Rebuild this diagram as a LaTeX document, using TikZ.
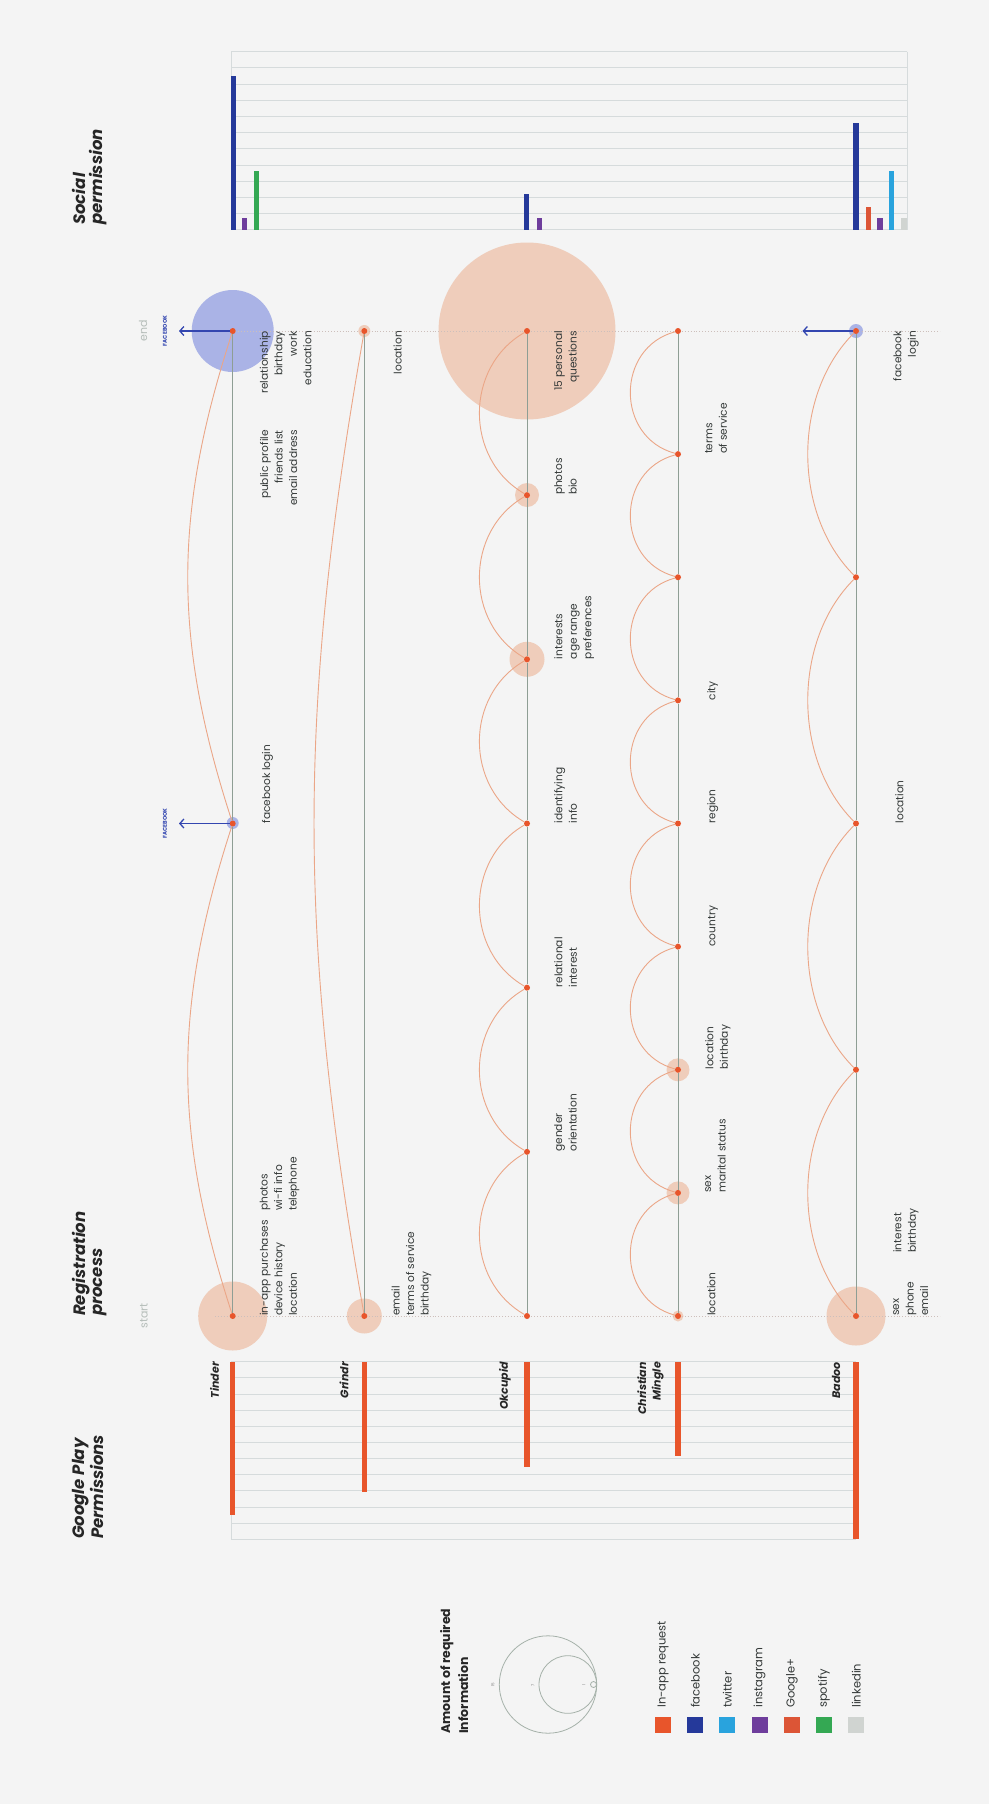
\documentclass[tikz,border=0pt]{standalone}
\usepackage{fontspec}
\setmainfont{Poppins}
\usetikzlibrary{arrows.meta}

\definecolor{bg}{HTML}{F4F4F4}
\definecolor{inapp}{HTML}{E8552B}
\definecolor{fb}{HTML}{25399A}
\definecolor{tw}{HTML}{29A3DD}
\definecolor{insta}{HTML}{6E3D9C}
\definecolor{gplus}{HTML}{DC5536}
\definecolor{spot}{HTML}{34A853}
\definecolor{lnkd}{HTML}{D0D4D1}
\definecolor{peach}{HTML}{EFCDBB}
\definecolor{lav}{HTML}{AAB3E6}
\definecolor{arcc}{HTML}{EBA687}
\definecolor{trackc}{HTML}{8E9E94}
\definecolor{gridc}{HTML}{D6DBDC}
\definecolor{ink}{HTML}{343938}
\definecolor{fbline}{HTML}{3346B0}
\definecolor{stampc}{HTML}{B5BDB9}
\definecolor{guidec}{HTML}{CDBFBB}

\tikzset{
  dot/.style={circle,fill=inapp,inner sep=0pt,minimum size=6pt},
  hop/.style={draw=arcc,line width=0.9pt},
  track/.style={draw=trackc,line width=0.8pt},
  guide/.style={draw=guidec,line width=0.9pt,dotted},
  gridline/.style={draw=gridc,line width=0.9pt},
  fbarrow/.style={draw=fbline,line width=1.3pt,-{Straight Barb[length=4pt,width=9pt]}},
  fbtag/.style={rotate=90,inner sep=0pt,text=fbline,font=\fontsize{5.5}{6}\selectfont\bfseries},
  info/.style={rotate=90,inner sep=0pt,text=ink,font=\fontsize{10.6}{14.5}\selectfont,execute at begin node=\strut},
  infostart/.style={info,align=left,anchor=north west},
  infoend/.style={info,align=right,anchor=north east},
  heading/.style={rotate=90,inner sep=0pt,anchor=north west,align=left,text=black!85,font=\fontsize{16.5}{17}\selectfont\bfseries\itshape},
  appname/.style={rotate=90,inner sep=0pt,anchor=east,align=right,text=black!85,font=\fontsize{11}{14.5}\selectfont\bfseries\itshape},
  stamp/.style={rotate=90,inner sep=0pt,text=stampc,font=\fontsize{11}{12}\selectfont},
  ring/.style={draw=trackc!80,line width=0.8pt},
  tiny/.style={rotate=90,inner sep=0pt,text=black!50,font=\fontsize{4}{4}\selectfont},
  swatch/.style={inner sep=0pt,minimum size=16pt},
  keytext/.style={rotate=90,inner sep=0pt,anchor=west,text=ink,font=\fontsize{11.5}{12}\selectfont},
  okhop/.style={bend left=60,looseness=1.1},
  cmhop/.style={bend left=75,looseness=1.3},
  badoohop/.style={bend left=45,looseness=0.92}
}

\begin{document}
\begin{tikzpicture}[x=1pt,y=-1pt]
\useasboundingbox (0,0) rectangle (989,1804);
\fill[bg] (0,0) rectangle (989,1804);

\foreach \k in {0,...,11}
  \draw[gridline] (231,{51.7+16.2*\k}) -- (907,{51.7+16.2*\k});
\draw[gridline] (231,51.7) -- (231,230) (907,51.7) -- (907,230);
\foreach \k in {0,...,11}
  \draw[gridline] (231,{1361.7+16.15*\k}) -- (856,{1361.7+16.15*\k});
\draw[gridline] (231,1361.7) -- (231,1539.4);

\foreach \c/\x/\t in {fb/233.4/76,insta/244.8/218.3,spot/256.8/171,fb/526.8/194.3,insta/539.4/218.3,fb/856/123.3,gplus/868.8/206.7,insta/880/218.3,tw/891.5/171,lnkd/904/218.3}
  \fill[\c] ({\x-2.6},230) rectangle ({\x+2.6},\t);
\foreach \x/\b in {232.7/1515,364.3/1491.7,527/1467,678/1456,856/1539.4}
  \fill[inapp] ({\x-2.6},1361.7) rectangle ({\x+2.6},\b);

\node[heading] (gptitle) at (72,1539) {Google Play\\Permissions};
\node[heading] (regtitle) at (72,1316) {Registration\\process};
\node[heading] (soctitle) at (72,225) {Social\\permission};

\node[appname] (tindername) at (214.5,1362) {Tinder};
\node[appname] (grindrname) at (344,1362) {Grindr};
\node[appname] (okname) at (505,1362) {Okcupid};
\node[appname] (cmname) at (650.5,1362) {Christian\\Mingle};
\node[appname] (badooname) at (836,1362) {Badoo};

\node[stamp] (startlbl) at (144,1316) {start};
\node[stamp] (endlbl) at (143,331) {end};

\fill[peach] (232.7,1316) circle[radius=34.5];
\fill[lav] (232.7,823) circle[radius=6];
\fill[lav] (232.7,331) circle[radius=41];
\fill[peach] (364.3,1316) circle[radius=17.5];
\fill[peach] (364.3,331) circle[radius=6];
\fill[peach] (527,659.3) circle[radius=17.5];
\fill[peach] (527,495) circle[radius=12];
\fill[peach] (527,331) circle[radius=88.5];
\fill[peach] (678,1316) circle[radius=5.5];
\fill[peach] (678,1192.9) circle[radius=11.5];
\fill[peach] (678,1069.8) circle[radius=11.5];
\fill[peach] (856,1316) circle[radius=29.5];
\fill[lav] (856,331) circle[radius=7];

\coordinate (sl) at (215,1316);
\coordinate (sr) at (940,1316);
\coordinate (el) at (215,331);
\coordinate (er) at (940,331);
\draw[guide] (sl) -- (sr);
\draw[guide] (el) -- (er);

\node[dot] (t0) at (232.7,1316) {};
\node[dot] (t1) at (232.7,823.5) {};
\node[dot] (t2) at (232.7,331) {};
\node[dot] (g0) at (364.3,1316) {};
\node[dot] (g1) at (364.3,331) {};
\foreach \i in {0,...,6}
  \node[dot] (o\i) at (527,{1316-164.1667*\i}) {};
\foreach \i in {0,...,8}
  \node[dot] (c\i) at (678,{1316-123.125*\i}) {};
\foreach \i in {0,...,4}
  \node[dot] (b\i) at (856,{1316-246.25*\i}) {};

\draw[track] (t0) -- (t1) -- (t2);
\draw[track] (g0) -- (g1);
\draw[track] (o0) -- (o1) -- (o2) -- (o3) -- (o4) -- (o5) -- (o6);
\draw[track] (c0) -- (c1) -- (c2) -- (c3) -- (c4) -- (c5) -- (c6) -- (c7) -- (c8);
\draw[track] (b0) -- (b1) -- (b2) -- (b3) -- (b4);

\draw[hop] (t0) to[bend left=18] (t1);
\draw[hop] (t1) to[bend left=18] (t2);
\draw[hop] (g0) to[bend left=10] (g1);
\foreach \a/\b in {o0/o1,o1/o2,o2/o3,o3/o4,o4/o5,o5/o6}
  \draw[hop] (\a) to[okhop] (\b);
\foreach \a/\b in {c0/c1,c1/c2,c2/c3,c3/c4,c4/c5,c5/c6,c6/c7,c7/c8}
  \draw[hop] (\a) to[cmhop] (\b);
\foreach \a/\b in {b0/b1,b1/b2,b2/b3,b3/b4}
  \draw[hop] (\a) to[badoohop] (\b);

\coordinate (t1fb) at (179,823.5);
\coordinate (t2fb) at (179,331);
\coordinate (b4fb) at (802.5,331);
\draw[fbarrow] (t1) -- (t1fb);
\draw[fbarrow] (t2) -- (t2fb);
\draw[fbarrow] (b4) -- (b4fb);
\node[fbtag] (t1tag) at (165,823.5) {FACEBOOK};
\node[fbtag] (t2tag) at (165,331) {FACEBOOK};

\node[infostart] (t0info) at ([xshift=27pt]t0) {in-app purchases\\device history\\location};
\node[infostart] (t0more) at ([xshift=27pt,yshift=105pt]t0) {photos\\wi-fi info\\telephone};
\node[infostart] (t1info) at ([xshift=27pt]t1) {facebook login};
\node[infoend] (t2info) at ([xshift=27pt]t2) {relationship\\birthday\\work\\education};
\node[infoend] (t2more) at ([xshift=27pt,yshift=-99pt]t2) {public profile\\friends list\\email address};
\node[infostart] (g0info) at ([xshift=27pt]g0) {email\\terms of service\\birthday};
\node[infoend] (g1info) at ([xshift=27pt]g1) {location};
\node[infostart] (o1info) at ([xshift=27pt]o1) {gender\\orientation};
\node[infostart] (o2info) at ([xshift=27pt]o2) {relational\\interest};
\node[infostart] (o3info) at ([xshift=27pt]o3) {identifying\\info};
\node[infostart] (o4info) at ([xshift=27pt]o4) {interests\\age range\\preferences};
\node[infostart] (o5info) at ([xshift=27pt]o5) {photos\\bio};
\node[infoend] (o6info) at ([xshift=27pt]o6) {15 personal\\questions};
\node[infostart] (c0info) at ([xshift=27pt]c0) {location};
\node[infostart] (c1info) at ([xshift=27pt]c1) {sex\\marital status};
\node[infostart] (c2info) at ([xshift=27pt]c2) {location\\birthday};
\node[infostart] (c3info) at ([xshift=27pt]c3) {country};
\node[infostart] (c4info) at ([xshift=27pt]c4) {region};
\node[infostart] (c5info) at ([xshift=27pt]c5) {city};
\node[infostart] (c7info) at ([xshift=27pt]c7) {terms\\of service};
\node[infostart] (b0info) at ([xshift=37pt]b0) {sex\\phone\\email};
\node[infostart] (b0more) at ([xshift=37pt,yshift=63pt]b0) {interest\\birthday};
\node[infostart] (b2info) at ([xshift=37pt]b2) {location};
\node[infoend] (b4info) at ([xshift=37pt]b4) {facebook\\login};

\node[rotate=90,inner sep=0pt,anchor=north west,align=left,text=black!85,font=\fontsize{12.5}{18}\selectfont\bfseries] (amount) at (440,1734) {Amount of required\\Information};
\draw[ring] (548,1684.5) circle[radius=48.7];
\draw[ring] (567.8,1684.5) circle[radius=28.8];
\draw[ring] (593.5,1684.5) circle[radius=3];
\node[tiny] (n15) at (493,1685) {15};
\node[tiny] (n7) at (533,1685) {7};
\node[tiny] (n1) at (584,1685) {1};

\foreach \c/\t [count=\i from 0] in {inapp/In-app request,fb/facebook,tw/twitter,insta/instagram,gplus/Google+,spot/spotify,lnkd/linkedin}{
  \node[swatch,fill=\c] (key\i) at ({663+32.2*\i},1724.7) {};
  \node[keytext] (keylbl\i) at ({663+32.2*\i},1708) {\t};
}
\end{tikzpicture}
\end{document}
